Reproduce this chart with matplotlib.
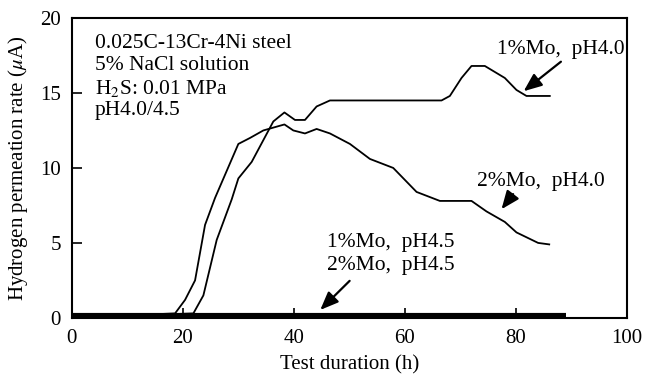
import numpy as np
import matplotlib
matplotlib.use("Agg")
import matplotlib.pyplot as plt

plt.rcParams['font.family'] = ['Liberation Serif', 'DejaVu Serif']
plt.rcParams['mathtext.fontset'] = 'stix'

# 1%Mo, pH4.0
mo1_ph40_x = [0, 21.9, 23.7, 26.1, 28.8, 30.0, 32.4, 36.3, 38.3, 40.2, 42.0, 44.1, 46.5,
              66.6, 68.1, 70.2, 72.0, 74.4, 78.0, 80.1, 81.9, 86.1]
mo1_ph40_y = [0, 0.3, 1.5, 5.2, 7.9, 9.3, 10.4, 13.1, 13.7, 13.2, 13.2, 14.1, 14.5,
              14.5, 14.8, 16.0, 16.8, 16.8, 16.0, 15.2, 14.8, 14.8]

# 2%Mo, pH4.0
mo2_ph40_x = [0, 18.6, 20.4, 22.2, 24.0, 25.8, 30.0, 32.1, 34.5, 38.3, 39.9, 42.0, 44.1,
              46.5, 50.1, 53.7, 57.9, 62.1, 66.3, 72.0, 74.7, 78.0, 80.1, 84.0, 86.0]
mo2_ph40_y = [0, 0.3, 1.2, 2.5, 6.2, 8.0, 11.6, 12.0, 12.5, 12.9, 12.5, 12.3, 12.6,
              12.3, 11.6, 10.6, 10.0, 8.4, 7.8, 7.8, 7.1, 6.4, 5.7, 5.0, 4.9]

# pH4.5 (both alloys stay near zero)
ph45_x = [0, 89]
mo1_ph45_y = [0.05, 0.05]
mo2_ph45_y = [0.2, 0.2]

fig = plt.figure(figsize=(6.47, 3.91), dpi=100)
ax = fig.add_axes([0.111, 0.187, 0.858, 0.767])

ax.plot(mo1_ph40_x, mo1_ph40_y, color='black', lw=1.3)
ax.plot(mo2_ph40_x, mo2_ph40_y, color='black', lw=1.3)
ax.plot(ph45_x, mo1_ph45_y, color='black', lw=3, solid_capstyle='butt')
ax.plot(ph45_x, mo2_ph45_y, color='black', lw=3, solid_capstyle='butt')

ax.set_xlim(0, 100)
ax.set_ylim(0, 20)
ax.set_xticks([0, 20, 40, 60, 80, 100])
ax.set_yticks([0, 5, 10, 15, 20])
ax.tick_params(direction='in', length=7, width=1.2, labelsize=15, pad=8)
for s in ax.spines.values():
    s.set_linewidth(1.5)

ax.set_xlabel('Test duration (h)', fontsize=15, labelpad=5)
ax.set_ylabel(r'Hydrogen permeation rate ($\mu$A)', fontsize=15, labelpad=7)

fs = 15.5
ax.text(4.1, 18.3, '0.025C-13Cr-4Ni steel', fontsize=fs, va='center')
ax.text(4.1, 16.8, '5% NaCl solution', fontsize=fs, va='center')
ax.text(4.1, 15.3, r'H$_2$S: 0.01 MPa', fontsize=fs, va='center')
ax.text(4.1, 13.8, 'pH4.0/4.5', fontsize=fs, va='center')

arrow = dict(arrowstyle='-|>,head_length=1.1,head_width=0.45', color='black', lw=1.6)
ax.text(76.6, 17.9, '1%Mo,  pH4.0', fontsize=fs, va='center')
ax.annotate('', xy=(81.0, 15.0), xytext=(88.5, 17.2), arrowprops=arrow)
ax.text(72.9, 9.1, '2%Mo,  pH4.0', fontsize=fs, va='center')
ax.annotate('', xy=(77.1, 7.1), xytext=(79.8, 8.4), arrowprops=arrow)
ax.text(45.9, 5.0, '1%Mo,  pH4.5', fontsize=fs, va='center')
ax.text(45.9, 3.5, '2%Mo,  pH4.5', fontsize=fs, va='center')
ax.annotate('', xy=(44.4, 0.4), xytext=(50.4, 2.6), arrowprops=arrow)

fig.savefig('out.png', dpi=100)
